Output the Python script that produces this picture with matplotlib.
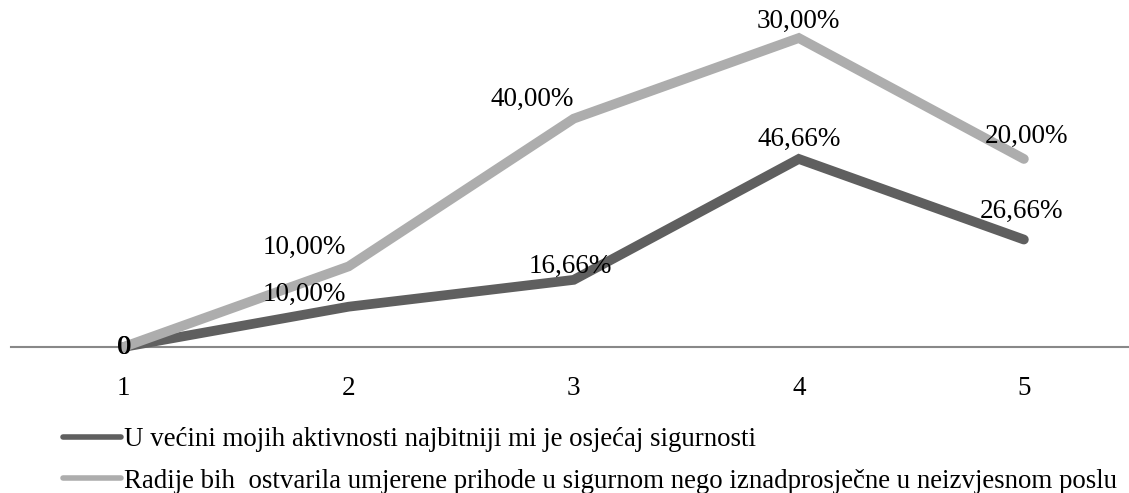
import matplotlib.pyplot as plt

plt.rcParams['font.family'] = ['Liberation Serif', 'DejaVu Serif']

categories = [1, 2, 3, 4, 5]
series_names = [
    "U većini mojih aktivnosti najbitniji mi je osjećaj sigurnosti",
    "Radije bih  ostvarila umjerene prihode u sigurnom nego iznadprosječne u neizvjesnom poslu",
]
sigurnost = [0, 10.00, 16.66, 46.66, 26.66]
prihodi = [0, 10.00, 40.00, 30.00, 20.00]
labels_sigurnost = ["0", "10,00%", "16,66%", "46,66%", "26,66%"]
labels_prihodi = ["0", "10,00%", "40,00%", "30,00%", "20,00%"]

colors = ["#5f5f5f", "#adadad"]

# stacked line chart: second series sits on top of the first
stacked = [a + b for a, b in zip(sigurnost, prihodi)]

fig = plt.figure(figsize=(11.29, 4.93), dpi=100)
ax = fig.add_axes([11 / 1129, 1 - 347 / 493, (1129 - 11) / 1129, 347 / 493])

ax.plot(categories, sigurnost, color=colors[0], lw=7, solid_capstyle='round',
        solid_joinstyle='miter', clip_on=False, zorder=3, label=series_names[0])
ax.plot(categories, stacked, color=colors[1], lw=7, solid_capstyle='round',
        solid_joinstyle='miter', clip_on=False, zorder=3, label=series_names[1])

# label offsets in pixels (dx, dy)
off_s = [(0, 0), (-44, 12), (-3, 13), (0, 20), (-2, 28)]
off_p = [(1, 0), (-44, 19), (-42, 19), (0, 17), (3, 23)]
for x, y, t, o in zip(categories, sigurnost, labels_sigurnost, off_s):
    ax.annotate(t, (x, y), xytext=o, textcoords='offset pixels', ha='center',
                va='center', fontsize=19.5, zorder=5, annotation_clip=False)
for x, y, t, o in zip(categories, stacked, labels_prihodi, off_p):
    ax.annotate(t, (x, y), xytext=o, textcoords='offset pixels', ha='center',
                va='center', fontsize=19.5, zorder=5, annotation_clip=False)

ax.set_xlim(0.5, 5.467)
ax.set_ylim(0, 86.1)
ax.set_xticks(categories)
ax.set_xticklabels([str(c) for c in categories])
ax.set_yticks([])
ax.tick_params(axis='x', length=0, pad=21, labelsize=19.5)
for s in ['top', 'right', 'left']:
    ax.spines[s].set_visible(False)
ax.spines['bottom'].set_color('#888888')
ax.spines['bottom'].set_linewidth(1.5)
ax.patch.set_alpha(0)

leg = fig.legend(loc='upper left', bbox_to_anchor=(63 / 1129, 1 - 427 / 493),
                 frameon=False, fontsize=19.4, handlelength=2.15, handletextpad=0.1,
                 labelspacing=0.62, borderpad=0, borderaxespad=0)
for h in leg.legend_handles:
    h.set_linewidth(4)

fig.savefig("out.png", dpi=100)
